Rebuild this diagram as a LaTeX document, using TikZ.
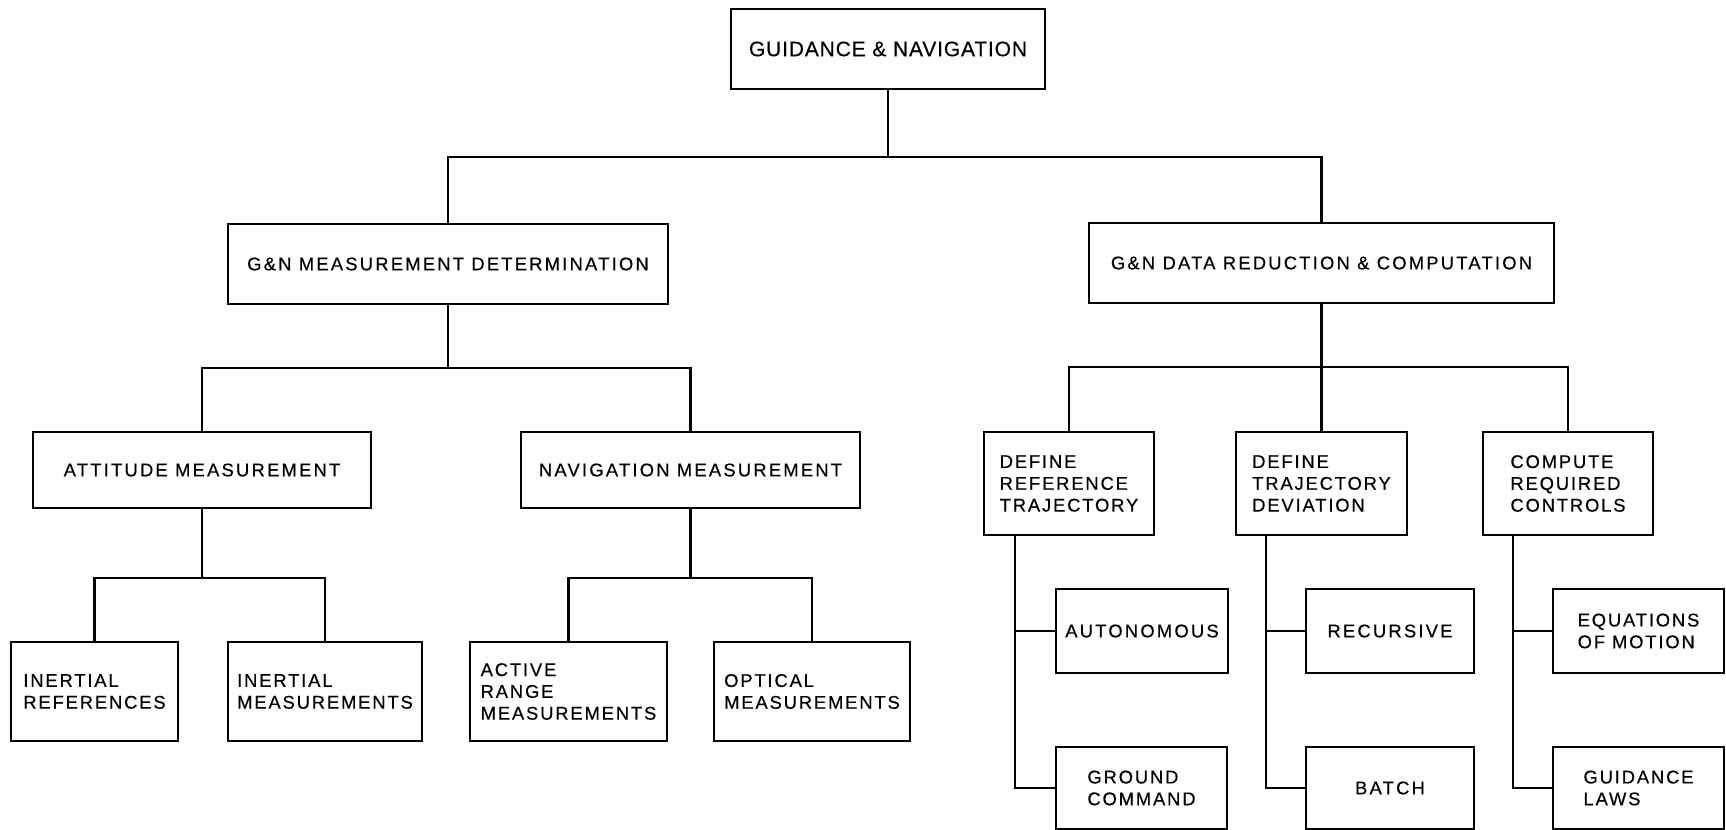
\documentclass[tikz,border=0pt]{standalone}
\usepackage{fontspec}
\setmainfont{Liberation Sans}
\newfontfamily\wideLS[LetterSpace=12,FakeBold=0.4]{Liberation Sans}
\newfontfamily\midLS[LetterSpace=10,FakeBold=0.4]{Liberation Sans}
\newfontfamily\rootLS[LetterSpace=4,FakeBold=0.4]{Liberation Sans}
\begin{document}
\begin{tikzpicture}[x=0.5pt,y=-0.5pt,
  box/.style={draw, line width=1.1pt, inner sep=0pt, align=left},
  one/.style={box, font=\wideLS\fontsize{9.2}{10.9}\selectfont},
  multi/.style={box, font=\midLS\fontsize{9.2}{10.9}\selectfont},
  top/.style={box, font=\rootLS\fontsize{10.5}{12}\selectfont},
  link/.style={line width=1.4pt, line join=miter, line cap=rect}]
\useasboundingbox[fill=white] (0,0) rectangle (1726,830);

% nodes
\node[top, minimum width=157pt, minimum height=40pt] (root) at (888,49) {GUIDANCE \& NAVIGATION};
\node[one, minimum width=220pt, minimum height=40pt] (gmd) at (448,264) {G\&N MEASUREMENT DETERMINATION};
\node[one, minimum width=232.5pt, minimum height=40pt] (gdrc) at (1321.5,263) {G\&N DATA REDUCTION \& COMPUTATION};
\node[one, minimum width=169pt, minimum height=38pt] (att) at (202,470) {ATTITUDE MEASUREMENT};
\node[one, minimum width=169.5pt, minimum height=38pt] (nav) at (690.5,470) {NAVIGATION MEASUREMENT};
\node[multi, minimum width=83.5pt, minimum height=49.5pt] (iref) at (94.5,691.5) {INERTIAL\\REFERENCES};
\node[multi, minimum width=97pt, minimum height=49.5pt] (imeas) at (325,691.5) {INERTIAL\\MEASUREMENTS};
\node[multi, minimum width=98.5pt, minimum height=49.5pt] (arng) at (568.5,691.5) {ACTIVE\\RANGE\\MEASUREMENTS};
\node[multi, minimum width=98pt, minimum height=49.5pt] (opt) at (812,691.5) {OPTICAL\\MEASUREMENTS};
\node[multi, minimum width=85pt, minimum height=51.5pt] (drt) at (1069,483.5) {DEFINE\\REFERENCE\\TRAJECTORY};
\node[multi, minimum width=85.5pt, minimum height=51.5pt] (dtd) at (1321.5,483.5) {DEFINE\\TRAJECTORY\\DEVIATION};
\node[multi, minimum width=85pt, minimum height=51.5pt] (crc) at (1568,483.5) {COMPUTE\\REQUIRED\\CONTROLS};
\node[one, minimum width=86pt, minimum height=42pt] (auto) at (1142,631) {AUTONOMOUS};
\node[multi, minimum width=85.5pt, minimum height=41pt] (gcmd) at (1141.5,788) {GROUND\\COMMAND};
\node[one, minimum width=84pt, minimum height=42pt] (recur) at (1390,631) {RECURSIVE};
\node[one, minimum width=84pt, minimum height=41pt] (batch) at (1390,788) {BATCH};
\node[multi, minimum width=85.5pt, minimum height=42pt] (eqm) at (1638.5,631) {EQUATIONS\\OF MOTION};
\node[multi, minimum width=85.5pt, minimum height=41pt] (glaws) at (1638.5,788) {GUIDANCE\\LAWS};

% connectors
\coordinate (j0) at (root.south |- 0,157);
\draw[link] (root.south) -- (j0);
\draw[link] (gmd.north) |- (j0) -| (gdrc.north);

\coordinate (j1) at (gmd.south |- 0,368);
\draw[link] (gmd.south) -- (j1);
\draw[link] (att.north) |- (j1) -| (nav.north);

\coordinate (j2) at (gdrc.south |- 0,367);
\draw[link] (gdrc.south) -- (j2);
\draw[link] (drt.north) |- (j2) -| (crc.north);
\draw[link] (j2) -- (dtd.north);

\coordinate (j3) at (att.south |- 0,578);
\draw[link] (att.south) -- (j3);
\draw[link] (iref.north) |- (j3) -| (imeas.north);

\coordinate (j4) at (nav.south |- 0,578);
\draw[link] (nav.south) -- (j4);
\draw[link] (arng.north) |- (j4) -| (opt.north);

\coordinate (t1) at ([xshift=16pt]drt.south west);
\draw[link] (t1) |- (gcmd.west);
\draw[link] (t1 |- auto.west) -- (auto.west);

\coordinate (t2) at ([xshift=15.5pt]dtd.south west);
\draw[link] (t2) |- (batch.west);
\draw[link] (t2 |- recur.west) -- (recur.west);

\coordinate (t3) at ([xshift=15.5pt]crc.south west);
\draw[link] (t3) |- (glaws.west);
\draw[link] (t3 |- eqm.west) -- (eqm.west);
\end{tikzpicture}
\end{document}
